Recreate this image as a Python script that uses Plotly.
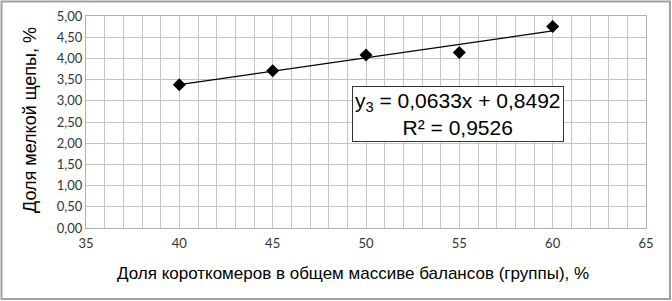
import plotly.graph_objects as go
import numpy as np

x_vals = [40, 45, 50, 55, 60]
y_vals = [3.38, 3.71, 4.08, 4.14, 4.75]
slope = 0.0633
intercept = 0.8492
r2 = 0.9526
x_title = "Доля короткомеров в общем массиве балансов (группы), %"
y_title = "Доля мелкой щепы, %"

W, H = 672, 301
ml, mr, mt, mb = 86, 26, 16, 73
pw, ph = W - ml - mr, H - mt - mb

fig = go.Figure()
tx = np.array([min(x_vals), max(x_vals)])
fig.add_trace(go.Scatter(x=tx, y=slope * tx + intercept, mode="lines",
                         line=dict(color="black", width=1.2), hoverinfo="skip"))
fig.add_trace(go.Scatter(x=x_vals, y=y_vals, mode="markers",
                         marker=dict(symbol="diamond", size=10, color="black")))

def px2paper_x(p):
    return (p - ml) / pw

def px2paper_y(p):
    return (H - mb - p) / ph

fig.add_shape(type="rect", xref="paper", yref="paper",
              x0=px2paper_x(1.5), x1=px2paper_x(670), y0=px2paper_y(299), y1=px2paper_y(1.5),
              line=dict(color="#a0a0a0", width=2), layer="below")

fig.add_annotation(x=54.95, y=2.69, xref="x", yref="y",
                   text="y<sub>3</sub> = 0,0633x + 0,8492<br>R² = 0,9526",
                   showarrow=False, align="center",
                   font=dict(family="Liberation Sans, Arial", size=21, color="black"),
                   bgcolor="white", bordercolor="#333333", borderwidth=1, borderpad=2)

fig.add_annotation(x=px2paper_x(353), y=px2paper_y(273), xref="paper", yref="paper",
                   text=x_title, showarrow=False, xanchor="center", yanchor="middle",
                   font=dict(family="Liberation Sans, Arial", size=17, color="black"))
fig.add_annotation(x=px2paper_x(30), y=px2paper_y(120), xref="paper", yref="paper",
                   text=y_title, showarrow=False, textangle=-90,
                   xanchor="center", yanchor="middle",
                   font=dict(family="Liberation Sans, Arial", size=18, color="black"))

fig.update_layout(
    width=W, height=H,
    margin=dict(l=ml, r=mr, t=mt, b=mb, autoexpand=False),
    paper_bgcolor="white", plot_bgcolor="white",
    showlegend=False,
    separators=", ",
    xaxis=dict(range=[35, 65], tickmode="linear", tick0=35, dtick=5,
               showgrid=True, gridcolor="#c4c4c4", gridwidth=1,
               minor=dict(tickmode="linear", tick0=35, dtick=1, showgrid=True,
                          gridcolor="#c4c4c4", gridwidth=1),
               showline=True, linecolor="#b0b0b0", mirror=True, zeroline=False,
               ticks="outside", ticklen=3, tickcolor="rgba(0,0,0,0)", automargin=False,
               tickfont=dict(family="Lato, Open Sans", size=13, color="#333")),
    yaxis=dict(range=[0, 5], tickmode="linear", tick0=0, dtick=0.5, tickformat=".2f",
               showgrid=True, gridcolor="#c4c4c4", gridwidth=1,
               showline=True, linecolor="#b0b0b0", mirror=True, zeroline=False,
               ticks="", automargin=False,
               tickfont=dict(family="Lato, Open Sans", size=13, color="#333")),
)

fig.write_html("out.html", config={"displayModeBar": False},
               post_script="document.body.style.margin='0';")
